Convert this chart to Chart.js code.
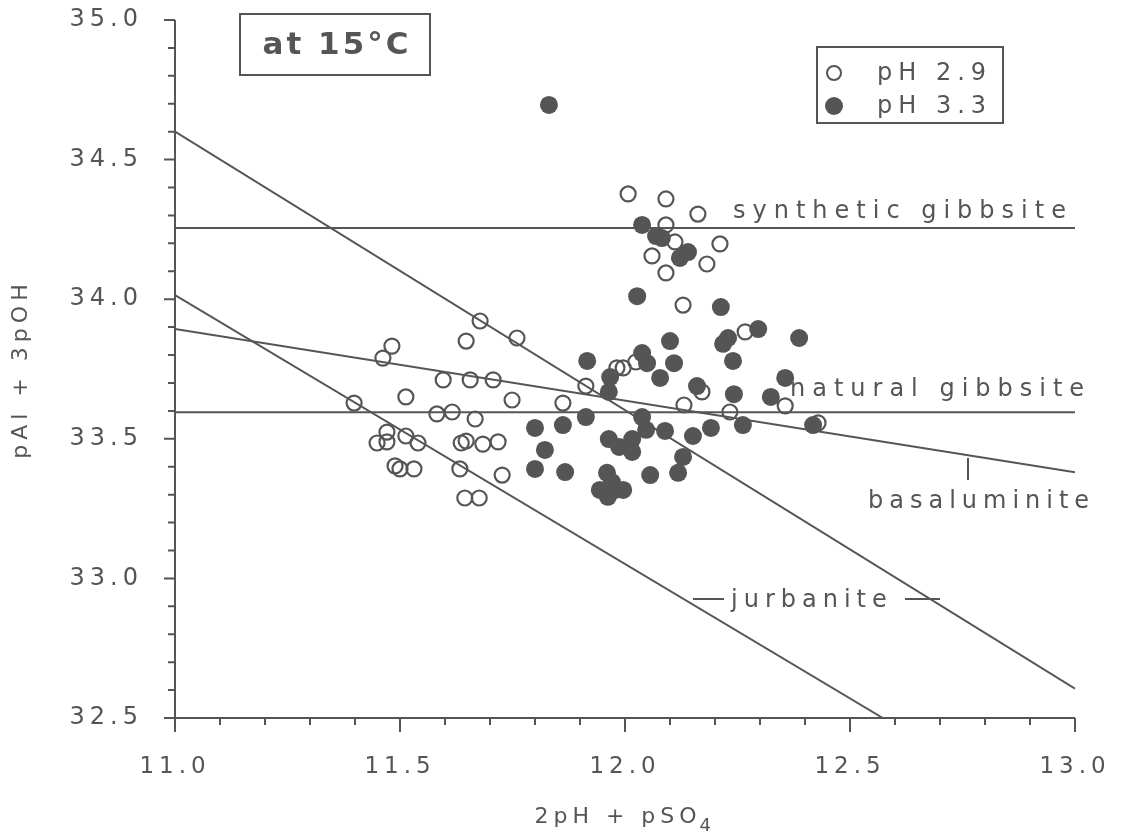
<!DOCTYPE html>
<html>
<head>
<meta charset="utf-8">
<script src="https://cdn.jsdelivr.net/npm/chart.js@4/dist/chart.umd.min.js"></script>
<style>
  html, body { margin: 0; padding: 0; background: #fff; }
  canvas { display: block; }
</style>
</head>
<body>
<canvas id="chart" width="1143" height="835"></canvas>
<script>
// pH 2.9 samples (open circles)
const ph29X = [11.678, 11.647, 11.760, 11.482, 11.462, 11.596, 11.656, 11.707, 11.513, 11.398,
               11.749, 11.862, 11.582, 11.616, 11.667, 11.471, 11.449, 11.471, 11.513, 11.540,
               11.636, 11.647, 11.684, 11.718, 11.489, 11.500, 11.531, 11.633, 11.727, 11.644,
               11.676, 12.007, 12.091, 12.162, 12.091, 12.111, 12.211, 12.060, 12.182, 12.091,
               12.129, 12.267, 11.982, 11.996, 12.024, 11.913, 12.171, 12.131, 12.233, 12.356,
               12.429];
const ph29Y = [33.922, 33.850, 33.861, 33.832, 33.789, 33.711, 33.711, 33.711, 33.650, 33.628,
               33.639, 33.628, 33.589, 33.596, 33.571, 33.524, 33.485, 33.489, 33.510, 33.485,
               33.485, 33.492, 33.481, 33.489, 33.403, 33.392, 33.392, 33.392, 33.370, 33.288,
               33.288, 34.377, 34.359, 34.305, 34.266, 34.205, 34.198, 34.155, 34.126, 34.094,
               33.979, 33.883, 33.754, 33.754, 33.775, 33.689, 33.668, 33.621, 33.596, 33.618,
               33.557];

// pH 3.3 samples (filled circles)
const ph33X = [11.831, 12.038, 12.069, 12.082, 12.140, 12.122, 12.027, 12.213, 12.100, 12.296,
               12.229, 12.218, 12.387, 11.916, 12.038, 12.049, 12.109, 12.240, 11.967, 12.078,
               12.356, 12.160, 11.964, 12.242, 12.324, 11.913, 11.862, 11.800, 12.038, 12.047,
               12.089, 12.151, 12.191, 12.262, 12.418, 11.964, 12.016, 11.987, 12.016, 11.822,
               12.129, 12.118, 12.056, 11.960, 11.867, 11.800, 11.944, 11.978, 11.996, 11.962,
               11.971];
const ph33Y = [34.696, 34.266, 34.226, 34.219, 34.169, 34.148, 34.011, 33.972, 33.850, 33.893,
               33.861, 33.840, 33.861, 33.779, 33.807, 33.771, 33.771, 33.779, 33.721, 33.718,
               33.718, 33.689, 33.668, 33.660, 33.650, 33.578, 33.549, 33.539, 33.578, 33.532,
               33.528, 33.510, 33.539, 33.549, 33.549, 33.499, 33.499, 33.471, 33.453, 33.460,
               33.435, 33.378, 33.370, 33.378, 33.381, 33.392, 33.317, 33.317, 33.317, 33.292,
               33.345];

// solubility lines, end points [x, y]
const syntheticGibbsite = [[11.0, 34.255], [13.0, 34.255]];
const naturalGibbsite   = [[11.0, 33.595], [13.0, 33.595]];
const basaluminite      = [[11.0, 33.893], [13.0, 33.380]];
const jurbaniteUpper    = [[11.0, 34.600], [13.0, 32.605]];
const jurbaniteLower    = [[11.0, 34.015], [12.573, 32.500]];

const xRange = [11.0, 13.0];
const yRange = [32.5, 35.0];

const INK = '#555555';
const FONT = '"DejaVu Sans", sans-serif';

const toPts = (xs, ys) => xs.map((x, i) => ({ x: x, y: ys[i] }));
const linePts = arr => arr.map(p => ({ x: p[0], y: p[1] }));

function lineSet(arr) {
  return {
    type: 'scatter',
    data: linePts(arr),
    showLine: true,
    borderColor: INK,
    borderWidth: 2,
    pointRadius: 0,
    fill: false
  };
}

const isMajor = v => Math.round(v * 10) % 5 === 0;

// axes, tick marks, boxes and line labels
const decor = {
  id: 'decor',
  beforeDraw(chart) {
    chart.ctx.letterSpacing = '5px';
  },
  afterDraw(chart) {
    const ctx = chart.ctx;
    const xs = chart.scales.x, ys = chart.scales.y;
    const a = chart.chartArea;
    ctx.save();
    ctx.strokeStyle = INK;
    ctx.fillStyle = INK;
    ctx.lineWidth = 2;

    // axis lines
    ctx.beginPath();
    ctx.moveTo(a.left, a.top);
    ctx.lineTo(a.left, a.bottom);
    ctx.lineTo(a.right, a.bottom);
    ctx.stroke();

    // tick marks
    ctx.beginPath();
    ys.ticks.forEach(t => {
      const py = ys.getPixelForValue(t.value);
      ctx.moveTo(a.left, py);
      ctx.lineTo(a.left - (isMajor(t.value) ? 11 : 7), py);
    });
    xs.ticks.forEach(t => {
      const px = xs.getPixelForValue(t.value);
      ctx.moveTo(px, a.bottom);
      ctx.lineTo(px, a.bottom + (isMajor(t.value) ? 14 : 7));
    });
    ctx.stroke();

    // x axis title with subscript 4
    ctx.font = '22px ' + FONT;
    ctx.letterSpacing = '5px';
    ctx.textAlign = 'left';
    ctx.textBaseline = 'alphabetic';
    const xt = '2pH + pSO';
    const xtw = ctx.measureText(xt).width;
    const xt0 = (a.left + a.right) / 2 - (xtw + 14) / 2;
    ctx.fillText(xt, xt0, 823);
    ctx.font = '18px ' + FONT;
    ctx.fillText('4', xt0 + xtw - 2, 831);

    // temperature box
    ctx.strokeRect(240, 14, 190, 61);
    ctx.font = 'bold 31px ' + FONT;
    ctx.letterSpacing = '3px';
    ctx.textAlign = 'center';
    ctx.textBaseline = 'middle';
    ctx.fillText('at 15°C', 337, 46);

    // legend box
    ctx.strokeRect(817, 47, 186, 76);
    ctx.beginPath();
    ctx.arc(834, 73, 7, 0, Math.PI * 2);
    ctx.stroke();
    ctx.beginPath();
    ctx.arc(834, 106, 9, 0, Math.PI * 2);
    ctx.fill();
    ctx.font = '24px ' + FONT;
    ctx.letterSpacing = '6px';
    ctx.textAlign = 'left';
    ctx.fillText('pH 2.9', 877, 74);
    ctx.fillText('pH 3.3', 877, 107);

    // line labels
    ctx.font = '24px ' + FONT;
    ctx.letterSpacing = '7px';
    ctx.textBaseline = 'alphabetic';
    ctx.fillText('synthetic gibbsite', 733, 218);
    ctx.fillText('natural gibbsite', 790, 396);
    ctx.letterSpacing = '6px';
    ctx.fillText('basaluminite', 868, 508);
    ctx.fillText('jurbanite', 731, 607);

    ctx.lineWidth = 2;
    ctx.beginPath();
    ctx.moveTo(968, 458); ctx.lineTo(968, 480);
    ctx.moveTo(693, 599); ctx.lineTo(724, 599);
    ctx.moveTo(905, 599); ctx.lineTo(940, 599);
    ctx.stroke();
    ctx.restore();
  }
};

new Chart(document.getElementById('chart'), {
  type: 'scatter',
  data: {
    datasets: [
      {
        label: 'pH 3.3',
        data: toPts(ph33X, ph33Y),
        pointRadius: 9,
        pointHoverRadius: 9,
        backgroundColor: INK,
        borderColor: INK,
        borderWidth: 0
      },
      {
        label: 'pH 2.9',
        data: toPts(ph29X, ph29Y),
        pointRadius: 7.5,
        pointHoverRadius: 7.5,
        backgroundColor: 'rgba(0,0,0,0)',
        borderColor: INK,
        borderWidth: 2.2
      },
      lineSet(syntheticGibbsite),
      lineSet(naturalGibbsite),
      lineSet(basaluminite),
      lineSet(jurbaniteUpper),
      lineSet(jurbaniteLower)
    ]
  },
  options: {
    responsive: false,
    animation: false,
    events: [],
    layout: { padding: { top: 20, right: 68, left: 0, bottom: 0 } },
    plugins: {
      legend: { display: false },
      tooltip: { enabled: false }
    },
    scales: {
      x: {
        type: 'linear',
        min: xRange[0],
        max: xRange[1],
        grid: { display: false, drawTicks: false },
        border: { display: false },
        afterFit: s => {
          s.height = 117;
          s.paddingLeft = 0;
          s.paddingRight = 0;
        },
        ticks: {
          stepSize: 0.1,
          autoSkip: false,
          maxTicksLimit: 100,
          maxRotation: 0,
          padding: 35,
          color: INK,
          font: { family: FONT, size: 23 },
          callback: v => isMajor(v) ? v.toFixed(1) : ''
        },
        title: { display: false }
      },
      y: {
        type: 'linear',
        min: yRange[0],
        max: yRange[1],
        grid: { display: false, drawTicks: false },
        border: { display: false },
        afterFit: s => {
          s.width = 175;
          s.paddingTop = 0;
          s.paddingBottom = 0;
        },
        ticks: {
          stepSize: 0.1,
          autoSkip: false,
          maxTicksLimit: 100,
          padding: 32,
          color: INK,
          font: { family: FONT, size: 24 },
          callback: v => isMajor(v) ? v.toFixed(1) : ''
        },
        title: {
          display: true,
          text: 'pAl + 3pOH',
          color: INK,
          font: { family: FONT, size: 22 },
          padding: { top: 8 }
        }
      }
    }
  },
  plugins: [decor]
});
</script>
</body>
</html>
